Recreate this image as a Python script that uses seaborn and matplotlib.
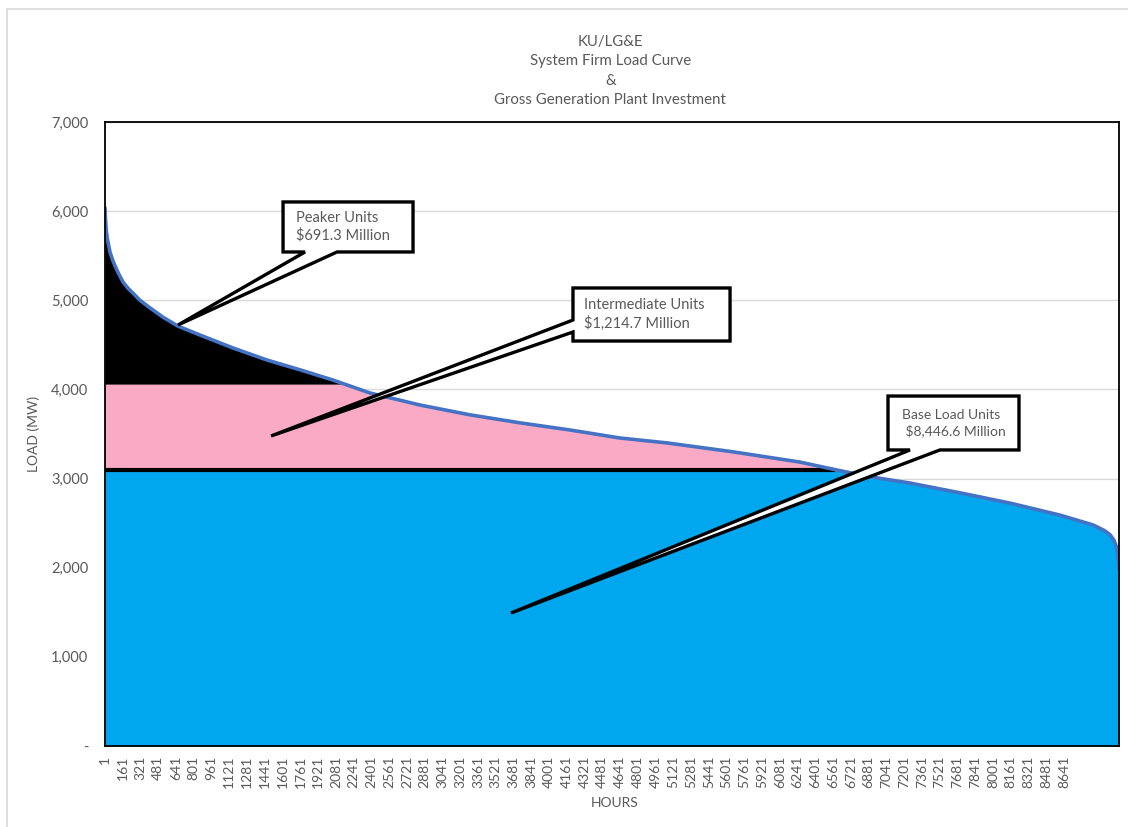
import numpy as np
import pandas as pd
import matplotlib
matplotlib.use("Agg")
import matplotlib.pyplot as plt
from matplotlib.patches import Polygon, Rectangle
from matplotlib.ticker import FuncFormatter
import seaborn as sns

# ---------------- data ----------------
hours = [1, 5, 12, 21, 46, 76, 121, 163, 208, 253, 316, 406, 524, 659, 857,
         1154, 1460, 1758, 2055, 2388, 2839, 3289, 3740, 4190, 4640, 5064,
         5658, 6262, 6559, 6893, 7253, 7704, 8154, 8605, 8902, 9000, 9055,
         9090, 9118, 9130, 9136]
load_mw = [6040, 5920, 5790, 5700, 5540, 5430, 5305, 5205, 5135, 5080, 5000,
           4915, 4810, 4710, 4610, 4465, 4330, 4220, 4105, 3960, 3825, 3715,
           3625, 3545, 3455, 3400, 3300, 3185, 3105, 3020, 2950, 2840, 2725,
           2590, 2480, 2420, 2370, 2310, 2220, 2120, 1990]
peaker_level = 4060
base_level = 3100
x_tick_labels = list(range(1, 8642, 160))
y_ticks = [0, 1000, 2000, 3000, 4000, 5000, 6000, 7000]
title_lines = ["KU/LG&E", "System Firm Load Curve", "&", "Gross Generation Plant Investment"]
callout_texts = {
    "peaker": ["Peaker Units", "$691.3 Million"],
    "intermediate": ["Intermediate Units", "$1,214.7 Million"],
    "base": ["Base Load Units", " $8,446.6 Million"],
}

df = pd.DataFrame({"hour": hours, "load": load_mw})

# ---------------- style ----------------
sns.set_theme(style="white")
plt.rcParams["font.family"] = ["Lato", "DejaVu Sans"]
GRAY = "#595959"
BLUE_FILL = "#00A6EE"
PINK = "#FBAAC5"
LINE = "#4472C4"

fig = plt.figure(figsize=(11.28, 8.27), dpi=100)
ax = fig.add_axes([105 / 1128, 1 - 746 / 827, 1014 / 1128, 624 / 827])

x = df["hour"].to_numpy(dtype=float)
y = df["load"].to_numpy(dtype=float)

# base (blue) under whole curve
ax.fill_between(x, 0, y, color=BLUE_FILL, lw=0, zorder=2)
# intermediate (pink) between base and peaker levels
pink = ax.fill_between(x, base_level, y, where=y >= base_level, interpolate=True,
                       color=PINK, lw=0, zorder=3)
clip = Rectangle((0, base_level), 20000, peaker_level - base_level,
                 transform=ax.transData, visible=False)
ax.add_patch(clip)
pink.set_clip_path(clip)
# peaker (black)
ax.fill_between(x, peaker_level, y, where=y >= peaker_level, interpolate=True,
                color="black", lw=0, zorder=4)

# black line at base level up to crossing
cross = np.interp(base_level, y[::-1], x[::-1])
ax.hlines(base_level, x[0], cross, color="black", lw=3, zorder=5)

# load curve
sns.lineplot(data=df, x="hour", y="load", ax=ax, color=LINE, lw=2.6,
             zorder=6, sort=False)

# axes
ax.set_xlim(1, 9136)
ax.set_ylim(0, 7000)
ax.set_yticks(y_ticks)
ax.yaxis.set_major_formatter(FuncFormatter(lambda v, p: "-" if v == 0 else f"{int(v):,}"))
ax.set_xticks(x_tick_labels)
ax.set_xticklabels([str(t) for t in x_tick_labels], rotation=90)
ax.tick_params(axis="x", length=0, pad=7, labelsize=10, labelcolor=GRAY)
ax.tick_params(axis="y", length=0, pad=12, labelsize=10.5, labelcolor=GRAY)
ax.grid(axis="y", color="#D9D9D9", lw=1)
ax.set_axisbelow(True)
for s in ax.spines.values():
    s.set_color("black")
    s.set_linewidth(1.3)
    s.set_zorder(10)
ax.set_xlabel("HOURS", color=GRAY, fontsize=10)
ax.set_ylabel("LOAD (MW)", color=GRAY, fontsize=10)
ax.xaxis.set_label_coords(0.503, -0.082)
ax.yaxis.set_label_coords(-0.064, 0.5)

# title
for i, line in enumerate(title_lines):
    fig.text(0.541, 1 - (42 + 19.5 * i) / 827, line, ha="center", va="center",
             color=GRAY, fontsize=10.8)

# outer chart border
fig.add_artist(Rectangle((7 / 1128, -0.05), 1.2, 1 - 9 / 827 + 0.05,
                         transform=fig.transFigure, fill=False,
                         edgecolor="#D9D9D9", lw=1.2))


# callouts (data coordinates)
def callout(box, side, base_a, base_b, tip, lines, text_xy, fs=10.5):
    L, R, B, T = box
    if side == "bottom":
        verts = [(L, T), (R, T), (R, B), (base_b, B), tip, (base_a, B), (L, B)]
    else:  # left side, base_a upper y, base_b lower y
        verts = [(L, T), (R, T), (R, B), (L, B), (L, base_b), tip, (L, base_a)]
    ax.add_patch(Polygon(verts, closed=True, facecolor="white", edgecolor="black",
                         lw=2.4, joinstyle="miter", zorder=8))
    tx, ty = text_xy
    ax.text(tx, ty, "\n".join(lines), ha="left", va="center", color=GRAY,
            fontsize=fs, linespacing=1.3, zorder=9)


callout((1605, 2776, 5542, 6103), "bottom", 1803, 2091, (659, 4723),
        callout_texts["peaker"], (1720, 5823))
callout((4217, 5632, 4543, 5138), "left", 4779, 4644, (1497, 3478),
        callout_texts["intermediate"], (4320, 4840))
callout((7055, 8235, 3321, 3926), "bottom", 7253, 7523, (3659, 1492),
        callout_texts["base"], (7180, 3625), fs=10)

fig.savefig("out.png", dpi=100)
